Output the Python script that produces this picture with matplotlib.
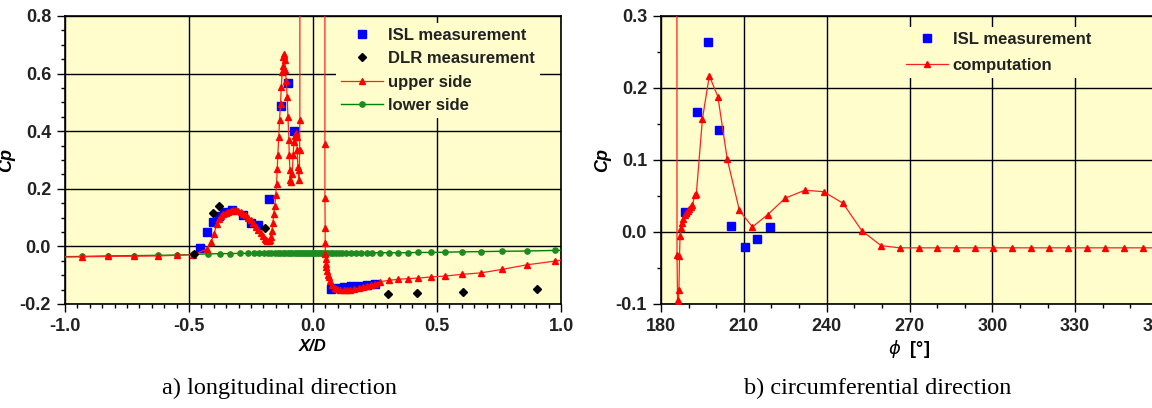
import numpy as np
import matplotlib
matplotlib.use("Agg")
import matplotlib.pyplot as plt
from matplotlib.ticker import MultipleLocator

# ---- a) longitudinal direction ----
isl_x = [-0.455, -0.428, -0.403, -0.381, -0.359, -0.328, -0.282, -0.249, -0.222, -0.179,
         -0.129, -0.101, -0.076, 0.072, 0.100, 0.127, 0.155, 0.185, 0.216, 0.250]
isl_cp = [-0.005, 0.050, 0.084, 0.107, 0.119, 0.127, 0.108, 0.081, 0.075, 0.166,
          0.488, 0.566, 0.400, -0.148, -0.145, -0.141, -0.139, -0.136, -0.134, -0.132]

dlr_x = [-0.480, -0.403, -0.379, -0.195, 0.301, 0.419, 0.603, 0.902]
dlr_cp = [-0.027, 0.117, 0.140, 0.064, -0.167, -0.162, -0.159, -0.147]

upper_x = [-1.04, -0.933, -0.825, -0.721, -0.627, -0.548, -0.482, -0.426, -0.410, -0.399,
           -0.388, -0.380, -0.372, -0.362, -0.352, -0.342, -0.332, -0.322, -0.312, -0.302,
           -0.292, -0.282, -0.272, -0.262, -0.252, -0.242, -0.231, -0.221, -0.211, -0.203,
           -0.195, -0.189, -0.184, -0.179, -0.174, -0.170, -0.166, -0.162, -0.158, -0.154,
           -0.150, -0.147, -0.144, -0.142, -0.138, -0.135, -0.131, -0.128, -0.124, -0.121,
           -0.119, -0.117, -0.115, -0.113, -0.111, -0.108, -0.104, -0.101, -0.097, -0.096,
           -0.093, -0.091, -0.087, -0.084, -0.080, -0.077, -0.074, -0.070, -0.066, -0.064,
           -0.061, -0.057, -0.055, -0.054, -0.053, -0.052, 0.048, 0.048, 0.048, 0.049,
           0.049, 0.050, 0.051, 0.052, 0.054, 0.057, 0.060, 0.064, 0.069, 0.077,
           0.087, 0.097, 0.110, 0.124, 0.137, 0.151, 0.167, 0.184, 0.200, 0.218,
           0.235, 0.252, 0.272, 0.307, 0.343, 0.382, 0.424, 0.477, 0.533, 0.600,
           0.677, 0.761, 0.862, 0.976, 1.04]
upper_cp = [-0.037, -0.036, -0.035, -0.034, -0.033, -0.031, -0.029, -0.008, 0.017, 0.044,
            0.079, 0.094, 0.105, 0.112, 0.117, 0.121, 0.123, 0.125, 0.125, 0.123,
            0.119, 0.114, 0.108, 0.099, 0.090, 0.080, 0.069, 0.057, 0.046, 0.036,
            0.027, 0.021, 0.018, 0.018, 0.023, 0.033, 0.052, 0.080, 0.114, 0.142,
            0.177, 0.218, 0.270, 0.316, 0.380, 0.438, 0.495, 0.553, 0.605, 0.628,
            0.657, 0.669, 0.660, 0.646, 0.611, 0.576, 0.518, 0.449, 0.368, 0.316,
            0.264, 0.229, 0.225, 0.252, 0.316, 0.362, 0.385, 0.395, 0.380, 0.333,
            0.275, 0.229, 0.264, 0.333, 0.438, 3.0, 3.0, 0.357, 0.169, 0.064,
            0.012, -0.025, -0.043, -0.060, -0.072, -0.085, -0.098, -0.107, -0.120, -0.135,
            -0.143, -0.149, -0.152, -0.153, -0.152, -0.150, -0.148, -0.145, -0.141, -0.138,
            -0.134, -0.130, -0.122, -0.118, -0.114, -0.112, -0.110, -0.106, -0.103, -0.097,
            -0.092, -0.080, -0.064, -0.051, -0.043]

lower_x = [-1.04, -0.933, -0.825, -0.721, -0.627, -0.548, -0.482, -0.425, -0.373, -0.333,
           -0.294, -0.264, -0.239, -0.216, -0.199, -0.183, -0.168, -0.155, -0.143, -0.132,
           -0.121, -0.111, -0.101, -0.092, -0.083, -0.074, -0.066, -0.058, -0.050, -0.042,
           -0.034, -0.026, -0.018, -0.010, -0.002, 0.006, 0.014, 0.022, 0.030, 0.038,
           0.046, 0.054, 0.062, 0.071, 0.082, 0.093, 0.104, 0.118, 0.134, 0.152,
           0.172, 0.194, 0.217, 0.238, 0.272, 0.305, 0.341, 0.382, 0.423, 0.477,
           0.533, 0.600, 0.677, 0.761, 0.862, 0.976, 1.04]
lower_cp = [-0.036, -0.035, -0.033, -0.032, -0.031, -0.030, -0.028, -0.026, -0.025, -0.025,
            -0.024, -0.024, -0.024, -0.023, -0.023, -0.023, -0.023, -0.023, -0.023, -0.023,
            -0.023, -0.023, -0.023, -0.023, -0.023, -0.023, -0.023, -0.023, -0.023, -0.023,
            -0.023, -0.023, -0.023, -0.023, -0.023, -0.023, -0.023, -0.023, -0.023, -0.023,
            -0.022, -0.022, -0.022, -0.022, -0.022, -0.022, -0.022, -0.022, -0.022, -0.022,
            -0.022, -0.022, -0.022, -0.022, -0.022, -0.022, -0.022, -0.022, -0.021, -0.021,
            -0.020, -0.019, -0.018, -0.017, -0.016, -0.014, -0.013]

# ---- b) circumferential direction ----
isl_phi = [188.7, 192.9, 196.9, 201.0, 205.4, 210.3, 214.7, 219.3]
isl_phi_cp = [0.028, 0.166, 0.264, 0.141, 0.009, -0.021, -0.010, 0.007]

comp_phi = [185.7, 185.8, 186.0, 186.2, 186.5, 186.7, 186.9, 187.2, 187.6, 188.1,
            188.6, 189.1, 189.7, 190.2, 190.8, 191.4, 192.2, 192.8, 195.0, 197.5,
            200.6, 204.0, 208.4, 213.1, 218.6, 225.0, 232.1, 238.9, 245.9, 252.7,
            259.7, 266.5, 273.3, 280.0, 286.8, 293.6, 300.3, 307.1, 313.9, 320.6,
            327.4, 334.2, 340.9, 347.7, 354.5, 362.0]
comp_cp = [1.0, -0.032, -0.095, -0.100, -0.081, -0.034, -0.006, 0.005, 0.012, 0.018,
           0.023, 0.026, 0.029, 0.032, 0.035, 0.037, 0.052, 0.053, 0.157, 0.217,
           0.188, 0.101, 0.030, 0.007, 0.024, 0.047, 0.058, 0.056, 0.040, 0.002,
           -0.019, -0.022, -0.022, -0.022, -0.022, -0.022, -0.022, -0.022, -0.022, -0.022,
           -0.022, -0.022, -0.022, -0.022, -0.022, -0.022]

bg = '#FEFDCB'
plt.rcParams['font.family'] = ['Liberation Sans', 'DejaVu Sans']
plt.rcParams['mathtext.fontset'] = 'dejavusans'

fig = plt.figure(figsize=(11.52, 4.08), dpi=100)
ax1 = fig.add_axes([65 / 1152, 1 - 304 / 408, 496 / 1152, 288 / 408])
ax2 = fig.add_axes([661 / 1152, 1 - 304 / 408, 497 / 1152, 288 / 408])


def style(ax):
    ax.set_facecolor(bg)
    ax.grid(True, which='major', color='black', linewidth=1.0)
    ax.set_axisbelow(True)
    ax.tick_params(which='major', direction='out', length=6, width=1.0, pad=4,
                   labelsize=13, colors='black', labelcolor='#222222')
    ax.tick_params(which='minor', direction='out', length=3, width=1.0)
    for lab in ax.get_xticklabels() + ax.get_yticklabels():
        lab.set_fontweight('bold')
    for s in ax.spines.values():
        s.set_linewidth(1.2)


def make_legend(ax, handles, labels, x, y, spacing):
    leg = ax.legend(handles, labels, loc='upper left',
                    bbox_to_anchor=(x / 1152, 1 - y / 408), bbox_transform=fig.transFigure,
                    frameon=True, facecolor=bg, edgecolor='none', framealpha=1,
                    fancybox=False, numpoints=1, handlelength=2.5, handletextpad=0.3,
                    labelspacing=spacing, borderpad=0.3, borderaxespad=0,
                    prop={'size': 12, 'weight': 'bold'})
    for t in leg.get_texts():
        t.set_color('#222222')
    return leg


ax1.plot(lower_x, lower_cp, color='#008000', lw=1.0, marker='o', ms=3.8,
         mec='#1F8A1F', mfc='#1F8A1F', label='lower side', zorder=3)
ax1.plot(upper_x, upper_cp, color='#FF2020', lw=0.9, marker='^', ms=4.8,
         mec='#FF0000', mfc='#FF0000', label='upper side', zorder=4)
ax1.plot(isl_x, isl_cp, ls='none', marker='s', ms=6, color='#0000FF',
         label='ISL measurement', zorder=2)
ax1.plot(dlr_x, dlr_cp, ls='none', marker='D', ms=3.6, color='black',
         label='DLR measurement', zorder=5)
ax1.set_xlim(-1.0, 1.0)
ax1.set_ylim(-0.2, 0.8)
ax1.set_xticks([-1.0, -0.5, 0.0, 0.5, 1.0])
ax1.xaxis.set_minor_locator(MultipleLocator(0.05))
ax1.yaxis.set_minor_locator(MultipleLocator(0.05))
ax1.xaxis.set_major_formatter(lambda v, p: f'{v:.1f}')
ax1.yaxis.set_major_formatter(lambda v, p: f'{v:.1f}')
style(ax1)
ax1.set_xlabel('X/D', fontsize=12, fontweight='bold', style='italic', labelpad=3)
ax1.set_ylabel('Cp', fontsize=13, fontweight='bold', style='italic')
ax1.yaxis.set_label_coords(-0.10, 0.5)

h, l = ax1.get_legend_handles_labels()
order = [2, 3, 1, 0]
make_legend(ax1, [h[i] for i in order], [l[i] for i in order], 336, 23, 0.5)

ax2.plot(comp_phi, comp_cp, color='#FF2020', lw=0.9, marker='^', ms=4.8,
         mec='#FF0000', mfc='#FF0000', label='computation', zorder=4)
ax2.plot(isl_phi, isl_phi_cp, ls='none', marker='s', ms=6, color='#0000FF',
         label='ISL measurement', zorder=3)
ax2.set_xlim(180, 360)
ax2.set_ylim(-0.1, 0.3)
ax2.set_xticks(np.arange(180, 361, 30))
ax2.set_yticks([-0.1, 0.0, 0.1, 0.2, 0.3])
ax2.xaxis.set_minor_locator(MultipleLocator(10))
ax2.yaxis.set_minor_locator(MultipleLocator(0.05))
ax2.yaxis.set_major_formatter(lambda v, p: f'{v:.1f}')
style(ax2)
ax2.set_xlabel(r'$\phi$  [°]', fontsize=13, fontweight='bold', labelpad=2)
ax2.set_ylabel('Cp', fontsize=13, fontweight='bold', style='italic')
ax2.yaxis.set_label_coords(-0.10, 0.5)

h, l = ax2.get_legend_handles_labels()
make_legend(ax2, [h[1], h[0]], [l[1], l[0]], 901, 27, 0.68)

fig.text(280 / 1152, 1 - 388 / 408, 'a) longitudinal direction', ha='center', va='center',
         fontsize=17.5, family='Liberation Serif')
fig.text(878 / 1152, 1 - 388 / 408, 'b) circumferential direction', ha='center', va='center',
         fontsize=17.5, family='Liberation Serif')

fig.savefig('out.png', dpi=100, facecolor='white')
